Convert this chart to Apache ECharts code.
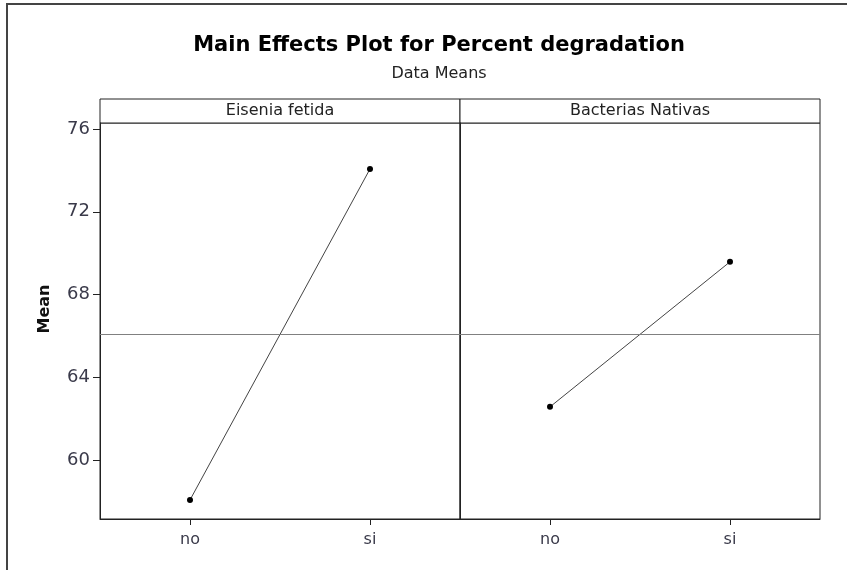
<!DOCTYPE html>
<html>
<head>
<meta charset="utf-8">
<script src="https://cdn.jsdelivr.net/npm/echarts@6/dist/echarts.min.js"></script>
<style>html,body{margin:0;padding:0;background:#fff}#c{width:847px;height:570px}</style>
</head>
<body>
<div id="c"></div>
<script>
var panels = ['Eisenia fetida', 'Bacterias Nativas'];
var levels = ['no', 'si'];
var eiseniaMeans = [58.07, 74.07];
var bacteriasMeans = [62.57, 69.58];
var grandMean = 66.1;
var yTicks = [60, 64, 68, 72, 76];
var yMin = 57.15, yMax = 76.29;

var chart = echarts.init(document.getElementById('c'));
var font = 'DejaVu Sans';
var labelColor = '#3a3a4a';

function xAxis(i) {
  return {
    type: 'category', gridIndex: i, data: levels, boundaryGap: true,
    axisLine: {show: true, lineStyle: {color: '#222', width: 1}},
    axisTick: {show: true, alignWithLabel: true, length: 6, lineStyle: {color: '#222'}},
    axisLabel: {color: labelColor, fontFamily: font, fontSize: 16, margin: 13},
    splitLine: {show: false}
  };
}
function yAxis(i) {
  return {
    type: 'value', gridIndex: i, min: yMin, max: yMax,
    axisLine: {show: true, lineStyle: {color: '#222'}},
    axisTick: {show: i === 0, length: 7, customValues: yTicks, lineStyle: {color: '#222'}},
    axisLabel: {show: i === 0, customValues: yTicks, color: labelColor, fontFamily: font, fontSize: 18, margin: 10},
    splitLine: {show: false}
  };
}
function series(i, data) {
  return {
    type: 'line', xAxisIndex: i, yAxisIndex: i, data: data,
    symbol: 'circle', symbolSize: 6, showSymbol: true,
    itemStyle: {color: '#000'},
    lineStyle: {color: '#444', width: 1},
    emphasis: {disabled: true},
    markLine: {
      silent: true, symbol: ['none', 'none'], label: {show: false},
      lineStyle: {color: '#808080', width: 1, type: 'solid'},
      data: [{yAxis: grandMean}]
    }
  };
}

chart.setOption({
  animation: false,
  backgroundColor: '#fff',
  title: [
    {text: 'Main Effects Plot for Percent degradation', left: 434, top: 30, textAlign: 'center',
     textStyle: {fontFamily: font, fontWeight: 'bold', fontSize: 21, color: '#000'}},
    {text: 'Data Means', left: 434, top: 61, textAlign: 'center',
     textStyle: {fontFamily: font, fontWeight: 'normal', fontSize: 16, color: '#222'}}
  ],
  grid: [
    {left: 100, top: 123, width: 360, height: 396, show: true, borderColor: '#222', borderWidth: 1},
    {left: 460, top: 123, width: 360, height: 396, show: true, borderColor: '#222', borderWidth: 1}
  ],
  xAxis: [xAxis(0), xAxis(1)],
  yAxis: [yAxis(0), yAxis(1)],
  series: [series(0, eiseniaMeans), series(1, bacteriasMeans)],
  graphic: [
    {type: 'polyline', shape: {points: [[7, 570], [7, 4], [847, 4]]}, style: {stroke: '#444', lineWidth: 2, fill: null}},
    {type: 'rect', shape: {x: 100, y: 99, width: 360, height: 24}, style: {fill: '#fff', stroke: '#222', lineWidth: 1}},
    {type: 'rect', shape: {x: 460, y: 99, width: 360, height: 24}, style: {fill: '#fff', stroke: '#222', lineWidth: 1}},
    {type: 'text', x: 280, y: 111, style: {text: panels[0], textAlign: 'center', textVerticalAlign: 'middle', font: '16px "DejaVu Sans"', fill: '#222'}},
    {type: 'text', x: 640, y: 111, style: {text: panels[1], textAlign: 'center', textVerticalAlign: 'middle', font: '16px "DejaVu Sans"', fill: '#222'}},
    {type: 'text', x: 45, y: 309, rotation: Math.PI / 2, style: {text: 'Mean', textAlign: 'center', textVerticalAlign: 'middle', font: 'bold 16px "DejaVu Sans"', fill: '#111'}}
  ]
});
</script>
</body>
</html>
